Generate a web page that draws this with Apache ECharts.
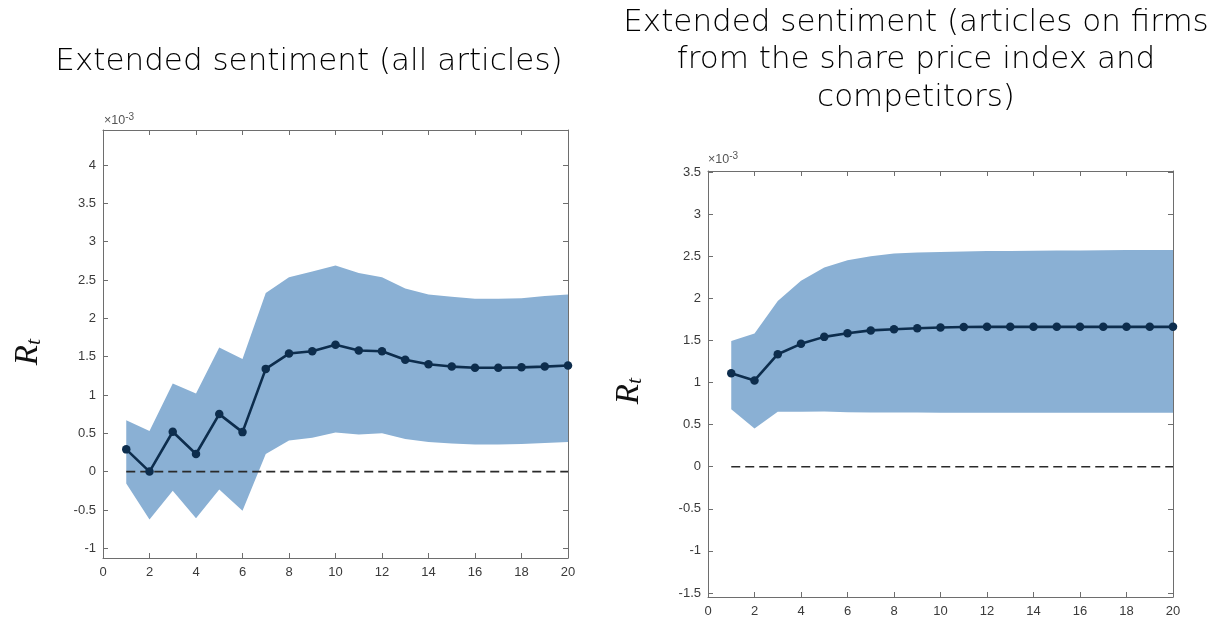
<!DOCTYPE html>
<html>
<head>
<meta charset="utf-8">
<script src="https://cdn.jsdelivr.net/npm/echarts@6/dist/echarts.min.js"></script>
<style>
  html, body { margin: 0; padding: 0; background: #fff; }
  #chart { width: 1215px; height: 619px; }
</style>
</head>
<body>
<div id="chart"></div>
<script>
// Horizons (periods after the shock)
const horizons = [1, 2, 3, 4, 5, 6, 7, 8, 9, 10, 11, 12, 13, 14, 15, 16, 17, 18, 19, 20];

// Panel A: extended sentiment, all articles (values in units of 1e-3)
const allMean  = [0.29, 0.00, 0.52, 0.23, 0.75, 0.515, 1.34, 1.54, 1.57, 1.655, 1.58, 1.57, 1.46, 1.40, 1.37, 1.355, 1.355, 1.36, 1.37, 1.385];
const allUpper = [0.67, 0.53, 1.15, 1.02, 1.62, 1.47, 2.33, 2.535, 2.61, 2.69, 2.59, 2.535, 2.39, 2.31, 2.28, 2.255, 2.255, 2.26, 2.29, 2.31];
const allLower = [-0.155, -0.625, -0.25, -0.607, -0.233, -0.51, 0.228, 0.407, 0.44, 0.51, 0.485, 0.50, 0.424, 0.385, 0.368, 0.355, 0.355, 0.36, 0.372, 0.385];

// Panel B: articles on index firms and competitors (values in units of 1e-3)
const firmMean  = [1.11, 1.025, 1.337, 1.46, 1.543, 1.587, 1.62, 1.634, 1.646, 1.654, 1.66, 1.662, 1.662, 1.662, 1.662, 1.662, 1.662, 1.662, 1.662, 1.662];
const firmUpper = [1.495, 1.583, 1.97, 2.21, 2.367, 2.454, 2.50, 2.533, 2.545, 2.552, 2.558, 2.562, 2.564, 2.566, 2.568, 2.57, 2.572, 2.574, 2.575, 2.576];
const firmLower = [0.684, 0.455, 0.652, 0.652, 0.656, 0.648, 0.645, 0.645, 0.643, 0.642, 0.641, 0.641, 0.640, 0.640, 0.640, 0.640, 0.640, 0.640, 0.640, 0.640];

// Axis tick labels
const xTicks = [0, 2, 4, 6, 8, 10, 12, 14, 16, 18, 20];
const yTicksA = [-1, -0.5, 0, 0.5, 1, 1.5, 2, 2.5, 3, 3.5, 4];
const yTicksB = [-1.5, -1, -0.5, 0, 0.5, 1, 1.5, 2, 2.5, 3, 3.5];

const titleA = 'Extended sentiment (all articles)';
const titleB = 'Extended sentiment (articles on firms\nfrom the share price index and\ncompetitors)';

const BAND = '#8ab0d4';
const LINE = '#0d2d4d';
const AXIS = '#6e6e6e';
const LABEL = '#3a3a3a';

const chart = echarts.init(document.getElementById('chart'), null, { renderer: 'canvas' });

const grids = [
  { left: 103, top: 130, width: 465, height: 428 },
  { left: 708, top: 171, width: 465, height: 426 }
];
const yRanges = [[-1.127, 4.456], [-1.548, 3.514]];
const yTickSets = [yTicksA, yTicksB];

function fmt(v) { return String(v); }

const xAxes = [], yAxes = [];
grids.forEach((g, i) => {
  // bottom axis with labels
  xAxes.push({
    type: 'value', gridIndex: i, min: 0, max: 20, position: 'bottom',
    axisLine: { show: true, onZero: false, lineStyle: { color: AXIS, width: 1 } },
    axisTick: { show: true, inside: true, length: 5, customValues: xTicks, lineStyle: { color: AXIS } },
    axisLabel: { customValues: xTicks, color: LABEL, fontSize: 13, fontFamily: 'Liberation Sans', margin: 8, formatter: fmt },
    splitLine: { show: false }
  });
  // top edge of the box
  xAxes.push({
    type: 'value', gridIndex: i, min: 0, max: 20, position: 'top',
    axisLine: { show: true, onZero: false, lineStyle: { color: AXIS, width: 1 } },
    axisTick: { show: true, inside: true, length: 5, customValues: xTicks, lineStyle: { color: AXIS } },
    axisLabel: { show: false },
    splitLine: { show: false }
  });
  yAxes.push({
    type: 'value', gridIndex: i, min: yRanges[i][0], max: yRanges[i][1], position: 'left',
    axisLine: { show: true, onZero: false, lineStyle: { color: AXIS, width: 1 } },
    axisTick: { show: true, inside: true, length: 5, customValues: yTickSets[i], lineStyle: { color: AXIS } },
    axisLabel: { customValues: yTickSets[i], color: LABEL, fontSize: 13, fontFamily: 'Liberation Sans', margin: 7, formatter: fmt },
    splitLine: { show: false }
  });
  yAxes.push({
    type: 'value', gridIndex: i, min: yRanges[i][0], max: yRanges[i][1], position: 'right',
    axisLine: { show: true, onZero: false, lineStyle: { color: AXIS, width: 1 } },
    axisTick: { show: true, inside: true, length: 5, customValues: yTickSets[i], lineStyle: { color: AXIS } },
    axisLabel: { show: false },
    splitLine: { show: false }
  });
});

// Confidence band drawn as one polygon: upper edge forward, lower edge backward
function bandSeries(gridIdx, upper, lower) {
  return {
    type: 'custom',
    xAxisIndex: gridIdx * 2, yAxisIndex: gridIdx * 2,
    data: horizons.map((h, k) => [h, upper[k], lower[k]]),
    clip: true,
    z: 1,
    silent: true,
    renderItem: function (params, api) {
      if (params.dataIndex !== 0) return;
      const pts = [];
      for (let k = 0; k < horizons.length; k++) pts.push(api.coord([horizons[k], upper[k]]));
      for (let k = horizons.length - 1; k >= 0; k--) pts.push(api.coord([horizons[k], lower[k]]));
      return { type: 'polygon', shape: { points: pts }, style: { fill: BAND, stroke: null } };
    }
  };
}

function zeroLine(gridIdx) {
  return {
    type: 'line', xAxisIndex: gridIdx * 2, yAxisIndex: gridIdx * 2,
    data: [[horizons[0], 0], [horizons[horizons.length - 1], 0]],
    symbol: 'none', z: 3, silent: true,
    lineStyle: { color: '#2a2a2a', width: 1.6, type: [9, 5] }
  };
}

function meanLine(gridIdx, mean) {
  return {
    type: 'line', xAxisIndex: gridIdx * 2, yAxisIndex: gridIdx * 2,
    data: horizons.map((h, k) => [h, mean[k]]),
    symbol: 'circle', symbolSize: 8.5, z: 4, silent: true,
    lineStyle: { color: LINE, width: 2.6 },
    itemStyle: { color: LINE, borderWidth: 0 }
  };
}

function expLabel(x, y) {
  return {
    type: 'text', x: x, y: y, z: 10,
    style: {
      text: '{m|×}{n|10}{e|-3}',
      verticalAlign: 'bottom',
      rich: {
        m: { fontSize: 12.5, fontFamily: 'Liberation Sans', fill: '#555' },
        n: { fontSize: 12.5, fontFamily: 'Liberation Sans', fill: '#555' },
        e: { fontSize: 10, fontFamily: 'Liberation Sans', fill: '#555', verticalAlign: 'top', padding: [0, 0, 7, 0] }
      }
    }
  };
}

function rLabel(x, y) {
  return {
    type: 'text', x: x, y: y, rotation: Math.PI / 2, z: 10,
    style: {
      text: '{r|R}{t|t}',
      align: 'center', verticalAlign: 'middle',
      rich: {
        r: { fontSize: 33, fontStyle: 'italic', fontFamily: 'Liberation Serif', fill: '#111' },
        t: { fontSize: 22, fontStyle: 'italic', fontFamily: 'Liberation Serif', fill: '#111', padding: [13, 0, 0, 0] }
      }
    }
  };
}

const option = {
  backgroundColor: '#fff',
  animation: false,
  title: [
    {
      text: titleA, left: 304, top: 41, textAlign: 'center',
      textStyle: { fontFamily: 'DejaVu Sans', fontWeight: 200, fontSize: 31, color: '#000' }
    },
    {
      text: titleB, left: 911, top: -1, textAlign: 'center',
      textStyle: { fontFamily: 'DejaVu Sans', fontWeight: 200, fontSize: 31, lineHeight: 37.5, color: '#000', align: 'center' }
    }
  ],
  grid: grids,
  xAxis: xAxes,
  yAxis: yAxes,
  series: [
    bandSeries(0, allUpper, allLower),
    zeroLine(0),
    meanLine(0, allMean),
    bandSeries(1, firmUpper, firmLower),
    zeroLine(1),
    meanLine(1, firmMean)
  ],
  graphic: [
    expLabel(104, 129),
    expLabel(708, 168),
    rLabel(28, 352),
    rLabel(629, 391)
  ]
};

chart.setOption(option);
</script>
</body>
</html>
